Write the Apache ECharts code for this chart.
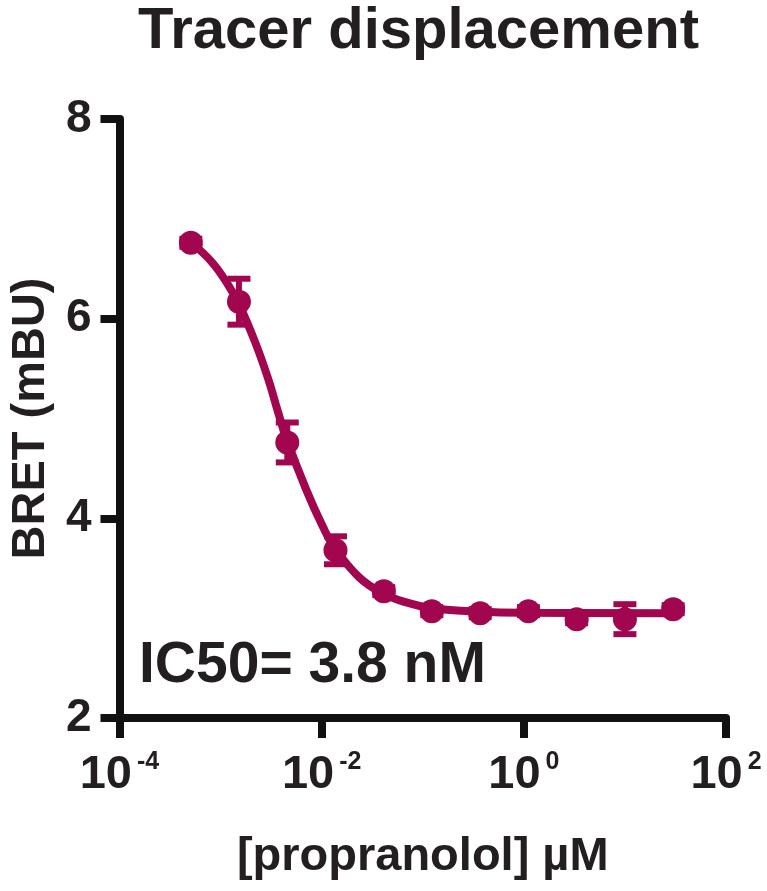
<!DOCTYPE html>
<html>
<head>
<meta charset="utf-8">
<title>Tracer displacement</title>
<script src="https://cdn.jsdelivr.net/npm/echarts@6/dist/echarts.min.js"></script>
<style>
  html, body { margin: 0; padding: 0; background: #fff; }
  #chart { width: 767px; height: 891px; }
</style>
</head>
<body>
<div id="chart"></div>
<script>
// propranolol concentrations (uM), 3-fold dilutions
const concUM = [0.000508, 0.00152, 0.00457, 0.0137, 0.0412, 0.123, 0.370, 1.11, 3.33, 10, 30];
const bretMean = [6.76, 6.17, 4.76, 3.68, 3.27, 3.07, 3.05, 3.07, 2.99, 2.99, 3.09];
const bretSem = [0.04, 0.23, 0.20, 0.14, 0.04, 0.04, 0.04, 0.04, 0.04, 0.15, 0.04];

// fitted curve (log10 uM, mBU)
const fitLogX = [-3.30, -3.08, -2.92, -2.82, -2.66, -2.53, -2.43, -2.35, -2.15, -1.99, -1.87, -1.63, -1.40, -1.17, -0.91, -0.42, 0.04, 1.47];
const fitBret = [6.77, 6.56, 6.33, 6.15, 5.77, 5.40, 5.06, 4.80, 4.28, 3.92, 3.70, 3.41, 3.25, 3.16, 3.10, 3.065, 3.055, 3.05];

const xTicks = [-4, -2, 0, 2];
const yTicks = [2, 4, 6, 8];

const color = '#a1064f';
const ink = '#231f20';
const font = '"Liberation Sans", Arial, Helvetica, sans-serif';

let myChart = echarts.init(document.getElementById('chart'));

let points = concUM.map((c, i) => [Math.log10(c), bretMean[i]]);
let errors = concUM.map((c, i) => [Math.log10(c), bretMean[i] - bretSem[i], bretMean[i] + bretSem[i]]);
let curve = fitLogX.map((x, i) => [x, fitBret[i]]);

function renderError(params, api) {
  let x = api.value(0);
  let lo = api.coord([x, api.value(1)]);
  let hi = api.coord([x, api.value(2)]);
  let cap = 11.5;
  let style = { stroke: color, lineWidth: 6 };
  return {
    type: 'group',
    children: [
      { type: 'line', shape: { x1: hi[0], y1: hi[1], x2: lo[0], y2: lo[1] }, style: style },
      { type: 'line', shape: { x1: hi[0] - cap, y1: hi[1], x2: hi[0] + cap, y2: hi[1] }, style: style },
      { type: 'line', shape: { x1: lo[0] - cap, y1: lo[1], x2: lo[0] + cap, y2: lo[1] }, style: style }
    ]
  };
}

let option = {
  backgroundColor: '#fff',
  animation: false,
  title: {
    text: 'Tracer displacement',
    left: 133,
    top: -2,
    textStyle: { fontFamily: font, fontSize: 58, fontWeight: 'bold', color: ink }
  },
  grid: { left: 115, right: 41, top: 119, bottom: 173 },
  xAxis: {
    type: 'value',
    min: -4,
    max: 2,
    interval: 2,
    name: '[propranolol] \u00b5M',
    nameLocation: 'middle',
    nameGap: 116,
    nameTextStyle: { fontFamily: font, fontSize: 47, fontWeight: 'bold', color: ink },
    splitLine: { show: false },
    axisLine: { onZero: false, lineStyle: { color: '#111', width: 8 } },
    axisTick: { length: 20, lineStyle: { color: '#111', width: 8 } },
    axisLabel: {
      margin: 32,
      formatter: v => xTicks.includes(v) ? '{b|10}{s|' + v + '}' : '',
      rich: {
        b: { fontFamily: font, fontSize: 47, fontWeight: 'bold', color: ink, lineHeight: 50 },
        s: { fontFamily: font, fontSize: 25, fontWeight: 'bold', color: ink, lineHeight: 50, verticalAlign: 'top', padding: [0, 0, 0, 5] }
      }
    }
  },
  yAxis: {
    type: 'value',
    min: 2,
    max: 8,
    interval: 2,
    name: 'BRET (mBU)',
    nameLocation: 'middle',
    nameGap: 62,
    nameTextStyle: { fontFamily: font, fontSize: 47, fontWeight: 'bold', color: ink },
    splitLine: { show: false },
    axisLine: { onZero: false, lineStyle: { color: '#111', width: 8 } },
    axisTick: { length: 19, lineStyle: { color: '#111', width: 8 } },
    axisLabel: {
      margin: 28,
      fontFamily: font, fontSize: 46, fontWeight: 'bold', color: ink,
      formatter: v => yTicks.includes(v) ? String(v) : ''
    }
  },
  graphic: [
    {
      type: 'text',
      left: 139,
      top: 638,
      style: { text: 'IC50= 3.8 nM', fontFamily: font, fontSize: 57, fontWeight: 'bold', fill: ink }
    }
  ],
  series: [
    {
      name: 'fit',
      type: 'line',
      data: curve,
      smooth: 0.4,
      showSymbol: false,
      lineStyle: { color: color, width: 8 },
      z: 2
    },
    {
      name: 'sem',
      type: 'custom',
      data: errors,
      renderItem: renderError,
      z: 3
    },
    {
      name: 'mean',
      type: 'scatter',
      data: points,
      symbol: 'circle',
      symbolSize: 24,
      itemStyle: { color: color, opacity: 1 },
      z: 4
    }
  ]
};

option && myChart.setOption(option);
</script>
</body>
</html>
